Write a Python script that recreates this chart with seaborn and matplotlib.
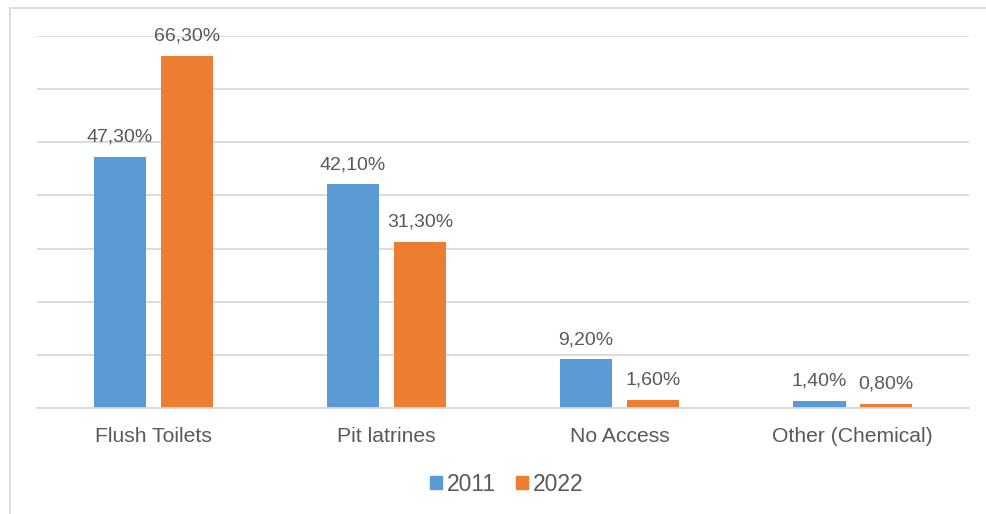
import matplotlib
matplotlib.use("Agg")
import matplotlib.pyplot as plt
import matplotlib.patches as mpatches
import seaborn as sns
import pandas as pd

categories = ["Flush Toilets", "Pit latrines", "No Access", "Other (Chemical)"]
years = ["2011", "2022"]
values_2011 = [47.3, 42.1, 9.2, 1.4]
values_2022 = [66.3, 31.3, 1.6, 0.8]
y_ticks = [0, 10, 20, 30, 40, 50, 60, 70]

df = pd.DataFrame({
    "category": categories * 2,
    "year": [years[0]] * len(categories) + [years[1]] * len(categories),
    "value": values_2011 + values_2022,
})

sns.set_theme(style="white")
plt.rcParams["font.family"] = ["Liberation Sans", "DejaVu Sans"]

text_color = "#595959"
grid_color = "#D9D9D9"
palette = {"2011": "#5B9BD5", "2022": "#ED7D31"}

fig = plt.figure(figsize=(9.86, 5.14), dpi=100)
ax = fig.add_axes([0.0375, 0.2062, 0.9453, 0.7238])

sns.barplot(data=df, x="category", y="value", hue="year", order=categories,
            hue_order=years, palette=palette, width=0.574, gap=0.21,
            saturation=1, linewidth=0, ax=ax, legend=False)

ax.set_ylim(0, 70)
ax.set_xlim(-0.5, 3.5)
ax.set_yticks(y_ticks)
ax.yaxis.grid(True, color=grid_color, linewidth=1.3)
ax.set_axisbelow(True)
ax.tick_params(axis="y", left=False, labelleft=False)
ax.tick_params(axis="x", bottom=False, pad=8, labelsize=15.2, labelcolor=text_color)
ax.set_xlabel("")
ax.set_ylabel("")
for side in ["top", "right", "left"]:
    ax.spines[side].set_visible(False)
ax.spines["bottom"].set_color(grid_color)
ax.spines["bottom"].set_linewidth(1.3)

for container in ax.containers:
    labels = [f"{bar.get_height():.2f}".replace(".", ",") + "%" for bar in container]
    ax.bar_label(container, labels=labels, padding=8, fontsize=14,
                 color=text_color)

handles = [mpatches.Patch(color=palette[y], label=y) for y in years]
fig.legend(handles=handles, loc="center", bbox_to_anchor=(0.514, 0.058),
           ncol=2, frameon=False, fontsize=16.5, labelcolor=text_color,
           handlelength=0.52, handleheight=0.52, handletextpad=0.2,
           columnspacing=0.9)

# chart area border (left and top edges)
fig.add_artist(plt.Line2D([0.0102, 0.0102], [0.0, 0.984], color=grid_color,
                          linewidth=1.3, transform=fig.transFigure))
fig.add_artist(plt.Line2D([0.0102, 1.0], [0.984, 0.984], color=grid_color,
                          linewidth=1.3, transform=fig.transFigure))

fig.savefig("out.png", dpi=100)
